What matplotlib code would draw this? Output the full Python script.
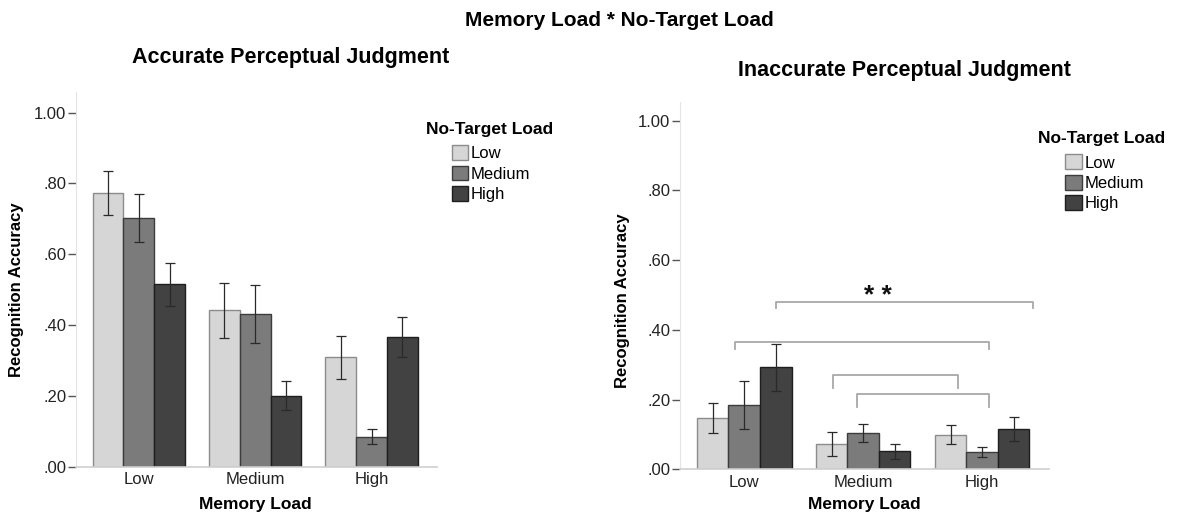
import numpy as np
import matplotlib.pyplot as plt
from matplotlib.patches import Patch

plt.rcParams['font.family'] = ['Liberation Sans', 'DejaVu Sans']

# -------------------------------------------------------
# data
# -------------------------------------------------------
memory_load = ["Low", "Medium", "High"]
target_load = ["Low", "Medium", "High"]

# accurate perceptual judgment: rows = no-target load, cols = memory load
acc_mean = [[0.774, 0.442, 0.309],
            [0.702, 0.430, 0.085],
            [0.515, 0.201, 0.365]]
acc_lo = [[0.711, 0.364, 0.248],
          [0.635, 0.348, 0.064],
          [0.453, 0.160, 0.309]]
acc_hi = [[0.834, 0.520, 0.370],
          [0.771, 0.513, 0.107],
          [0.576, 0.241, 0.422]]

# inaccurate perceptual judgment
inacc_mean = [[0.147, 0.072, 0.099],
              [0.185, 0.105, 0.050],
              [0.292, 0.052, 0.115]]
inacc_lo = [[0.104, 0.038, 0.072],
            [0.116, 0.078, 0.036],
            [0.224, 0.031, 0.080]]
inacc_hi = [[0.189, 0.106, 0.128],
            [0.253, 0.131, 0.065],
            [0.358, 0.074, 0.151]]

# significance brackets (x start, x end, top y, tick bottom y)
brackets = [(0.265, 2.43, 0.480, 0.462),
            (-0.08, 2.06, 0.365, 0.345),
            (0.745, 1.80, 0.271, 0.234),
            (0.95, 2.06, 0.215, 0.178)]
star_xy = (1.12, 0.497)

yticks = [0.0, 0.2, 0.4, 0.6, 0.8, 1.0]
ytick_labels = [".00", ".20", ".40", ".60", ".80", "1.00"]

face = ["#d6d6d6", "#7b7b7b", "#424242"]
edge = ["#8c8c8c", "#3c3c3c", "#1e1e1e"]
width = 0.265


def draw_panel(ax, mean, lo, hi, ytop):
    x = np.arange(len(memory_load))
    for i in range(3):
        m = np.array(mean[i])
        err = [m - np.array(lo[i]), np.array(hi[i]) - m]
        ax.bar(x + (i - 1) * width, m, width, color=face[i],
               edgecolor=edge[i], linewidth=1.0, zorder=2)
        ax.errorbar(x + (i - 1) * width, m, yerr=err, fmt="none",
                    ecolor="#2a2a2a", elinewidth=0.9, capsize=3.8,
                    capthick=0.9, zorder=3)
    ax.set_xlim(-0.54, 2.56)
    ax.set_ylim(0, ytop)
    ax.set_xticks(x)
    ax.set_xticklabels(memory_load, fontsize=12, color="#222222")
    ax.set_yticks(yticks)
    ax.set_yticklabels(ytick_labels, fontsize=12, color="#222222")
    ax.tick_params(axis="x", length=0, pad=4)
    ax.tick_params(axis="y", length=6, width=1, color="#555555", pad=1)
    for s in ["top", "right"]:
        ax.spines[s].set_visible(False)
    ax.spines["left"].set_color("#e4e4e4")
    ax.spines["bottom"].set_color("#cfcfcf")
    ax.spines["bottom"].set_linewidth(1.2)


fig = plt.figure(figsize=(11.84, 5.15), dpi=100)

ax1 = fig.add_axes([0.0642, 0.0938, 0.3047, 0.7276])
draw_panel(ax1, acc_mean, acc_lo, acc_hi, 1.058)

ax2 = fig.add_axes([0.5743, 0.0887, 0.3115, 0.7138])
draw_panel(ax2, inacc_mean, inacc_lo, inacc_hi, 1.054)

# brackets
for x0, x1, yt, yb in brackets:
    ax2.plot([x0, x0, x1, x1], [yb, yt, yt, yb], color="#a8a8a8",
             linewidth=1.3, zorder=4)
ax2.text(star_xy[0], star_xy[1], "* *", ha="center", va="center",
         fontsize=19, fontweight="bold", color="#111111")

# axis labels
ax1.text(-0.164, 0.472, "Recognition Accuracy", rotation=90,
         transform=ax1.transAxes, ha="center", va="center",
         fontsize=12, fontweight="bold")
ax2.text(-0.157, 0.46, "Recognition Accuracy", rotation=90,
         transform=ax2.transAxes, ha="center", va="center",
         fontsize=12, fontweight="bold")
ax1.text(0.496, -0.102, "Memory Load", transform=ax1.transAxes,
         ha="center", va="center", fontsize=12.5, fontweight="bold")
ax2.text(0.499, -0.097, "Memory Load", transform=ax2.transAxes,
         ha="center", va="center", fontsize=12.5, fontweight="bold")

# titles
fig.text(0.5228, 0.961, "Memory Load * No-Target Load", ha="center",
         va="center", fontsize=15, fontweight="bold")
fig.text(0.2458, 0.8874, "Accurate Perceptual Judgment", ha="center",
         va="center", fontsize=15.5, fontweight="bold")
fig.text(0.7640, 0.864, "Inaccurate Perceptual Judgment", ha="center",
         va="center", fontsize=15.5, fontweight="bold")

# legends
handles = [Patch(facecolor=face[i], edgecolor=edge[i], linewidth=1.0)
           for i in range(3)]
for tx, ty, lx, ly in [(0.3598, 0.7476, 0.3815, 0.7180),
                       (0.8767, 0.7320, 0.8995, 0.7000)]:
    fig.text(tx, ty, "No-Target Load", ha="left", va="center",
             fontsize=12.5, fontweight="bold")
    fig.legend(handles, target_load, loc="upper left",
               bbox_to_anchor=(lx, ly), frameon=False, fontsize=12,
               handlelength=1.0, handleheight=1.0, handletextpad=0.15,
               labelspacing=0.25, borderpad=0, borderaxespad=0)

fig.savefig("out.png", dpi=100)
